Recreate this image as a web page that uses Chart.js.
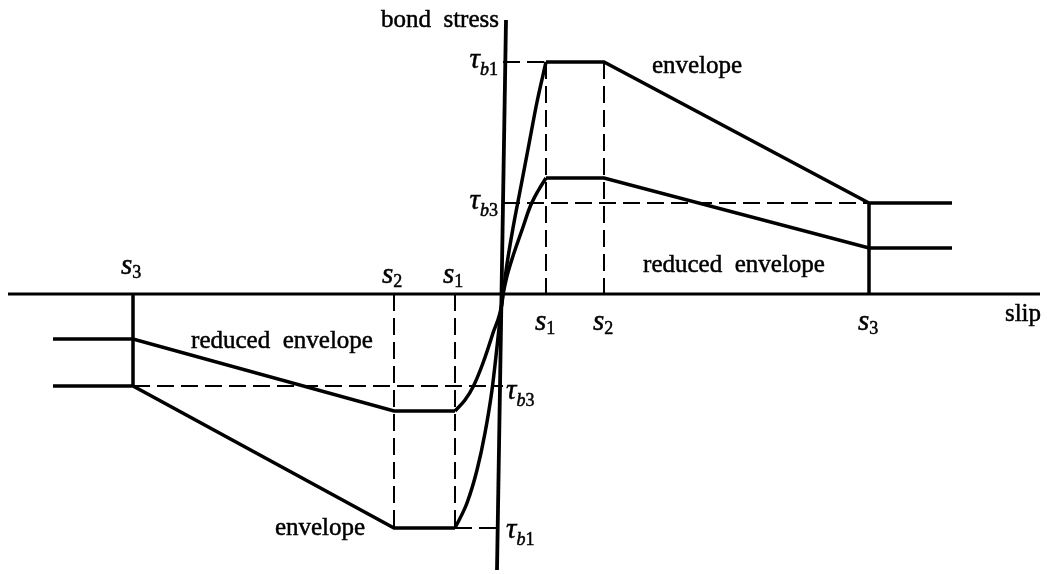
<!DOCTYPE html>
<html>
<head>
<meta charset="utf-8">
<script src="https://cdn.jsdelivr.net/npm/chart.js@4/dist/chart.umd.min.js"></script>
<style>
  html, body { margin: 0; padding: 0; background: #fff; }
  canvas { display: block; }
</style>
</head>
<body>
<canvas id="bondChart" width="1047" height="574"></canvas>
<script>
// characteristic slips s1, s2, s3 (right and left branch)
const slipRight = [43, 101, 366];
const slipLeft = [-48, -109, -370];
const slipNames = ['1', '2', '3'];

// bond stress levels tau_b1, tau_b3
const stressUp = [232, 91];
const stressDown = [-234, -92];
const stressNames = ['1', '3'];

// reduced envelope: plateau level, level at s3
const reducedUp = [116, 46];
const reducedDown = [-117, -45];

// residual branches stop here
const tailRight = 449;
const tailLeft = -450;

// ascending branches
const envRiseX = [0, 4, 10, 18, 26, 34, 43];
const envRiseY = [0, 30, 66, 108, 150, 192, 232];
const redRiseX = [0, 4, 10, 19, 27, 35, 43];
const redRiseY = [0, 18, 38, 64, 87, 103, 116];
const envFallX = [-48, -36, -26, -18, -11, -6, -2, 0];
const envFallY = [-234, -209, -176, -139, -96, -53, -16, 0];
const redFallX = [-48, -38, -30, -20, -10, -1, 0];
const redFallY = [-117, -106, -93, -69, -39, -9, 0];

// axes
const slipAxisX = [-495, 537];
const stressAxisX = [3, -6];
const stressAxisY = [274, -276];

function pts(xs, ys) {
    return xs.map((v, i) => ({ x: v, y: ys[i] }));
}

const solid = {
    showLine: true,
    borderColor: '#000',
    borderWidth: 3.5,
    pointRadius: 0,
    fill: false,
    tension: 0
};
const dashed = Object.assign({}, solid, { borderWidth: 2, borderDash: [17, 7] });
const curve = Object.assign({}, solid, { cubicInterpolationMode: 'monotone' });

const datasets = [
    // axes
    Object.assign({}, solid, { data: pts(slipAxisX, [0, 0]), borderWidth: 3.2 }),
    Object.assign({}, solid, { data: pts(stressAxisX, stressAxisY), borderWidth: 3.8 }),

    // rising branches
    Object.assign({}, curve, { data: pts(envRiseX, envRiseY) }),
    Object.assign({}, curve, { data: pts(redRiseX, redRiseY) }),
    Object.assign({}, curve, { data: pts(envFallX, envFallY) }),
    Object.assign({}, curve, { data: pts(redFallX, redFallY) }),

    // envelope, positive slip
    Object.assign({}, solid, { data: [
        { x: slipRight[0], y: stressUp[0] },
        { x: slipRight[1], y: stressUp[0] },
        { x: slipRight[2], y: stressUp[1] },
        { x: tailRight, y: stressUp[1] }
    ] }),
    // reduced envelope, positive slip
    Object.assign({}, solid, { data: [
        { x: slipRight[0], y: reducedUp[0] },
        { x: slipRight[1], y: reducedUp[0] },
        { x: slipRight[2], y: reducedUp[1] },
        { x: tailRight, y: reducedUp[1] }
    ] }),
    Object.assign({}, solid, { data: [{ x: slipRight[2], y: 0 }, { x: slipRight[2], y: stressUp[1] }] }),

    // envelope, negative slip
    Object.assign({}, solid, { data: [
        { x: slipLeft[0], y: stressDown[0] },
        { x: slipLeft[1], y: stressDown[0] },
        { x: slipLeft[2], y: stressDown[1] },
        { x: tailLeft, y: stressDown[1] }
    ] }),
    // reduced envelope, negative slip
    Object.assign({}, solid, { data: [
        { x: slipLeft[0], y: reducedDown[0] },
        { x: slipLeft[1], y: reducedDown[0] },
        { x: slipLeft[2], y: reducedDown[1] },
        { x: tailLeft, y: reducedDown[1] }
    ] }),
    Object.assign({}, solid, { data: [{ x: slipLeft[2], y: 0 }, { x: slipLeft[2], y: stressDown[1] }] }),

    // dashed guides
    Object.assign({}, dashed, { data: [{ x: 0, y: stressUp[0] }, { x: slipRight[0], y: stressUp[0] }] }),
    Object.assign({}, dashed, { data: [{ x: 0, y: stressUp[1] }, { x: slipRight[2], y: stressUp[1] }] }),
    Object.assign({}, dashed, { data: [{ x: slipRight[0], y: stressUp[0] }, { x: slipRight[0], y: 0 }] }),
    Object.assign({}, dashed, { data: [{ x: slipRight[1], y: stressUp[0] }, { x: slipRight[1], y: 0 }] }),
    Object.assign({}, dashed, { data: [{ x: slipLeft[0], y: 0 }, { x: slipLeft[0], y: stressDown[0] }] }),
    Object.assign({}, dashed, { data: [{ x: slipLeft[1], y: 0 }, { x: slipLeft[1], y: stressDown[0] }] }),
    Object.assign({}, dashed, { data: [{ x: slipLeft[2], y: stressDown[1] }, { x: 0, y: stressDown[1] }] }),
    Object.assign({}, dashed, { data: [{ x: slipLeft[0], y: stressDown[0] }, { x: 0, y: stressDown[0] }] })
];

const SERIF = '"Liberation Serif", serif';
const mainFont = 'italic 29px ' + SERIF;
const subItalic = 'italic 18px ' + SERIF;
const subRoman = '18px ' + SERIF;
const textFont = '25px ' + SERIF;

// fill and lightly stroke, so the type reads a little heavier
function ink(ctx, t, px, py) {
    ctx.fillText(t, px, py);
    ctx.strokeText(t, px, py);
}

// draw a run of text pieces (symbol + subscript) from a start position
function drawRuns(ctx, runs, px, py, align) {
    let total = 0;
    runs.forEach(r => { ctx.font = r.font; total += ctx.measureText(r.t).width; });
    let cx = align === 'right' ? px - total : align === 'center' ? px - total / 2 : px;
    ctx.textAlign = 'left';
    runs.forEach(r => {
        ctx.font = r.font;
        ink(ctx, r.t, cx, py + (r.dy || 0));
        cx += ctx.measureText(r.t).width;
    });
}

function slipRuns(n) {
    return [{ t: 's', font: mainFont }, { t: n, font: subRoman, dy: 4 }];
}
function tauRuns(n) {
    return [{ t: '\u03c4', font: mainFont }, { t: 'b', font: subItalic, dy: 7 }, { t: n, font: subRoman, dy: 7 }];
}

// free text, placed in slip / stress units
const captions = [
    { t: 'bond  stress', x: -4, y: 267, align: 'right' },
    { t: 'envelope', x: 194, y: 221, align: 'center' },
    { t: 'reduced  envelope', x: 231, y: 22, align: 'center' },
    { t: 'reduced  envelope', x: -221, y: -54, align: 'center' },
    { t: 'envelope', x: -183, y: -241, align: 'center' },
    { t: 'slip', x: 520, y: -27, align: 'center' }
];

const labelPlugin = {
    id: 'bondLabels',
    afterDatasetsDraw(chart) {
        const { ctx, scales: { x, y } } = chart;
        ctx.save();
        ctx.fillStyle = '#000';
        ctx.strokeStyle = '#000';
        ctx.lineWidth = 0.5;
        ctx.textBaseline = 'alphabetic';

        const y0 = y.getPixelForValue(0);
        slipRight.forEach((s, i) => {
            drawRuns(ctx, slipRuns(slipNames[i]), x.getPixelForValue(s) - 11, y0 + 36, 'left');
        });
        slipLeft.forEach((s, i) => {
            const lift = i === 2 ? 20 : 11;
            drawRuns(ctx, slipRuns(slipNames[i]), x.getPixelForValue(s) - 12, y0 - lift, 'left');
        });

        const x0 = x.getPixelForValue(0);
        stressUp.forEach((v, i) => {
            drawRuns(ctx, tauRuns(stressNames[i]), x0 - 5, y.getPixelForValue(v) + 6, 'right');
        });
        stressDown.forEach((v, i) => {
            const drop = i === 0 ? 10 : 13;
            drawRuns(ctx, tauRuns(stressNames[i]), x0 + 3, y.getPixelForValue(v) + drop, 'left');
        });

        ctx.font = textFont;
        captions.forEach(c => {
            ctx.textAlign = c.align;
            ink(ctx, c.t, x.getPixelForValue(c.x), y.getPixelForValue(c.y));
        });
        ctx.restore();
    }
};

function buildChart() {
    new Chart(document.getElementById('bondChart'), {
        type: 'scatter',
        data: { datasets: datasets },
        options: {
            responsive: false,
            animation: false,
            layout: { padding: 0 },
            plugins: { legend: { display: false }, tooltip: { enabled: false } },
            scales: {
                x: { type: 'linear', min: -503, max: 544, display: false },
                y: { type: 'linear', min: -280, max: 294, display: false }
            }
        },
        plugins: [labelPlugin]
    });
}

// make sure the serif faces are ready before the canvas text is drawn
Promise.all([mainFont, subItalic, subRoman, textFont].map(f => document.fonts.load(f, 'sτb1')))
    .then(buildChart, buildChart);
</script>
</body>
</html>
